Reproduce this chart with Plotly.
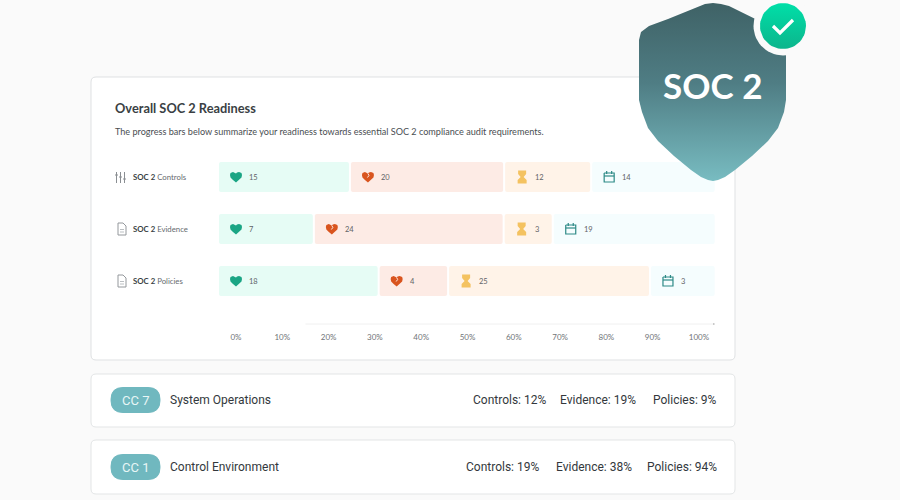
import math
import plotly.graph_objects as go

# ---- data ----
categories = ["SOC 2 Controls", "SOC 2 Evidence", "SOC 2 Policies"]
# printed counts
passing = [15, 7, 18]
failing = [20, 24, 4]
pending = [12, 3, 25]
scheduled = [14, 19, 3]
# drawn segment lengths on the 0-100% axis (bars are not proportional to the counts)
passing_len = [28.5, 20.7, 34.7]
failing_len = [33.3, 41.0, 15.0]
pending_len = [18.8, 10.6, 43.6]
scheduled_len = [26.9, 35.2, 14.2]
axis_start = -3.67
axis_end = 103.46
tick_values = [0, 10, 20, 30, 40, 50, 60, 70, 80, 90, 100]
cards = [("CC 7", "System Operations", "Controls: 12%", "Evidence: 19%", "Policies: 9%"),
         ("CC 1", "Control Environment", "Controls: 19%", "Evidence: 38%", "Policies: 94%")]

W, H = 900, 500
FONT = "Lato"
INK = "#3a3f44"
SEG = [
    ("Passing", passing_len, passing, "#e6fcf5", "heart"),
    ("Failing", failing_len, failing, "#fdebe5", "broken"),
    ("Pending", pending_len, pending, "#fff3e8", "hour"),
    ("Scheduled", scheduled_len, scheduled, "#f5fdfe", "cal"),
]
GAP = 2 / 4.63

fig = go.Figure()


def px_x(v):
    return 219 + (v - axis_start) * 496 / (axis_end - axis_start)


def poly(xs, ys, color):
    fig.add_trace(go.Scatter(x=xs, y=ys, xaxis="x2", yaxis="y2", mode="lines", fill="toself",
                             fillcolor=color, line=dict(width=0), hoverinfo="skip", showlegend=False))


def stroke(xs, ys, color, w=1.2):
    fig.add_trace(go.Scatter(x=xs, y=ys, xaxis="x2", yaxis="y2", mode="lines",
                             line=dict(color=color, width=w), hoverinfo="skip", showlegend=False))


def heart(cx, cy, color, broken=False):
    xs = [-6, -5.5, -3, -1, 0, 1, 3, 5.5, 6, 5.5, 3, 0, -3, -5.5, -6]
    ys = [-2, -4, -5, -4.5, -3.5, -4.5, -5, -4, -2, 0.5, 3, 5.5, 3, 0.5, -2]
    poly([cx + a for a in xs], [cy + b for b in ys], color)
    if broken:
        stroke([cx, cx + 1, cx - 0.5], [cy - 3.5, cy - 1.5, cy + 0.5], "#fdebe5", 1)


def hourglass(cx, cy, color):
    xs = [-4, 4, 4, 1.5, 4.5, 4.5, -4.5, -4.5, -1.5, -4]
    ys = [-6.5, -6.5, -3, 0, 3, 6.5, 6.5, 3, 0, -3]
    poly([cx + a for a in xs], [cy + b for b in ys], color)


def calendar(cx, cy, color):
    stroke([cx - 5, cx + 5, cx + 5, cx - 5, cx - 5], [cy - 4, cy - 4, cy + 5, cy + 5, cy - 4], color)
    stroke([cx - 5, cx + 5], [cy - 1, cy - 1], color)
    stroke([cx - 2.5, cx - 2.5, None, cx + 2.5, cx + 2.5], [cy - 6, cy - 3, None, cy - 6, cy - 3], color)


# ---- the chart: bars positioned through the real x/y axes ----
for i, (name, lens, vals, color, icon) in enumerate(SEG):
    bases = []
    for r in range(3):
        bases.append(axis_start + sum(SEG[k][1][r] for k in range(i)))
    fig.add_trace(go.Bar(y=categories, x=[l - GAP for l in lens], base=bases, orientation="h", name=name,
                         marker=dict(color=color, line=dict(width=0)), width=0.577,
                         customdata=vals, showlegend=False))

# ---- page and cards ----
shapes = []


def rrect(x0, y0, x1, y1, r, fill, line=None):
    X = lambda v: v / W
    Y = lambda v: 1 - v / H
    path = (f"M{X(x0+r)},{Y(y0)} L{X(x1-r)},{Y(y0)} Q{X(x1)},{Y(y0)} {X(x1)},{Y(y0+r)} L{X(x1)},{Y(y1-r)} "
            f"Q{X(x1)},{Y(y1)} {X(x1-r)},{Y(y1)} L{X(x0+r)},{Y(y1)} Q{X(x0)},{Y(y1)} {X(x0)},{Y(y1-r)} "
            f"L{X(x0)},{Y(y0+r)} Q{X(x0)},{Y(y0)} {X(x0+r)},{Y(y0)} Z")
    shapes.append(dict(type="path", path=path, xref="paper", yref="paper", fillcolor=fill,
                       line=dict(color=line or fill, width=1), layer="below"))


rrect(91, 77, 735, 360, 5, "#ffffff", "#dfe1e3")
rrect(91, 374, 735, 427, 5, "#ffffff", "#e3e5e6")
rrect(91, 440, 735, 494, 5, "#ffffff", "#e3e5e6")
# faint axis line, only visible over the right part in the reference
shapes.append(dict(type="line", xref="x", yref="paper", x0=15, x1=axis_end, y0=1 - 324 / H, y1=1 - 324 / H,
                   line=dict(color="#f0f0f0", width=1), layer="below"))
shapes.append(dict(type="line", xref="x", yref="paper", x0=103.2, x1=103.2, y0=1 - 323 / H, y1=1 - 325 / H,
                   line=dict(color="#b5b5b5", width=1), layer="below"))

ann = []


def text(x, y, s, size, color=INK, anchor="left", family=FONT, **kw):
    # annotations keep about 2 px of padding around the text
    if anchor == "left":
        x -= 2
    ann.append(dict(text=s, x=x, y=y, xref="x2", yref="y2", showarrow=False, xanchor=anchor, yanchor="middle",
                    font=dict(size=size, color=color, family=family), **kw))


text(115, 108, "<b>Overall SOC 2 Readiness</b>", 12.8)
text(115, 131, "The progress bars below summarize your readiness towards essential SOC 2 compliance audit requirements.", 9.1, "#4a4e52")

# category labels + left icons
for cat, y, lx in zip(categories, [177, 229, 281], [132.5, 133, 132.5]):
    a, b = cat.rsplit(" ", 1)
    text(lx, y, f"<b>{a}</b> <span style='color:#666a6e'>{b}</span>", 7.8)
for i, cx in enumerate([116.5, 120.5, 124.5]):
    stroke([cx, cx], [172, 183], "#8a8e92", 1)
    stroke([cx - 1.5, cx + 1.5], [175 + i * 2, 175 + i * 2], "#8a8e92", 1)
for y in (229, 281):
    stroke([118, 123, 126, 126, 118, 118], [y - 6, y - 6, y - 3, y + 6, y + 6, y - 6], "#94989c", 1)
    stroke([120, 124, None, 120, 124], [y + 0.5, y + 0.5, None, y + 3, y + 3], "#aaaeb2", 0.8)

# bar icons and printed counts, placed from the same bar positions
rows = [177, 229, 281]
for i, (name, lens, vals, color, icon) in enumerate(SEG):
    for r, y in enumerate(rows):
        b = px_x(axis_start + sum(SEG[k][1][r] for k in range(i)))
        if icon == "heart":
            heart(b + 17, y, "#1aa584")
        elif icon == "broken":
            heart(b + 17, y, "#d9541e", True)
        elif icon == "hour":
            hourglass(b + 17, y, "#f4c260")
        else:
            calendar(b + 17, y, "#2d8a86")
        text(b + 30, y, str(vals[r]), 7.5, "#5f6367")

# bottom cards
for (tag, title, c, e, p), y in zip(cards, [400, 467]):
    rrect(111, y - 12.5, 160, y + 12.5, 12, "#70b8bf")
    text(135.5, y, tag, 13, "#e8f6f6", "center", family="Roboto")
    text(170, y, title, 12, "#33383c", family="Roboto")
    xs = (473, 560, 653) if y == 400 else (466, 556, 647)
    for s, xx in zip((c, e, p), xs):
        text(xx, y, s, 12, "#33383c", family="Roboto")

# shield with vertical gradient (y2 runs downwards, so the scale is given bottom to top)
sx = [713, 721, 729, 760, 778, 785, 786, 786, 784, 778, 768, 752, 735, 725, 718, 713, 708, 701, 691, 674, 658, 648, 642, 639, 639, 639, 641, 649, 668, 705]
sy = [3, 4, 6, 21, 30, 40, 52, 100, 112, 128, 141, 156, 170, 177, 180, 181, 180, 177, 170, 156, 141, 128, 112, 100, 60, 40, 32, 26, 19, 4]
fig.add_trace(go.Scatter(x=sx, y=sy, xaxis="x2", yaxis="y2", mode="lines", fill="toself", line=dict(width=0),
                         fillgradient=dict(type="vertical",
                                           colorscale=[[0, "#78bcc1"], [0.55, "#4f7d84"], [1, "#3f6266"]]),
                         hoverinfo="skip", showlegend=False))
ang = [k * math.pi / 30 for k in range(61)]
poly([783 + 29.5 * math.cos(a) for a in ang], [26 + 29.5 * math.sin(a) for a in ang], "#fafafa")
fig.add_trace(go.Scatter(x=[783 + 23 * math.cos(a) for a in ang], y=[26 + 23 * math.sin(a) for a in ang],
                         xaxis="x2", yaxis="y2", mode="lines", fill="toself", line=dict(width=0),
                         fillgradient=dict(type="vertical", colorscale=[[0, "#0cb58c"], [1, "#00dfa8"]]),
                         hoverinfo="skip", showlegend=False))
stroke([773, 780, 793], [26, 33, 20], "#ffffff", 3.2)
text(712.5, 85, "<b>SOC 2</b>", 35, "#ffffff", "center", family="Lato")

fig.update_layout(
    width=W, height=H, autosize=False, margin=dict(l=0, r=0, t=0, b=0),
    paper_bgcolor="#fafafa", plot_bgcolor="rgba(0,0,0,0)", barmode="overlay",
    barcornerradius=2, showlegend=False, shapes=shapes, annotations=ann,
    xaxis=dict(domain=[219 / W, 715 / W], range=[axis_start, axis_end], tickmode="array", tickvals=tick_values,
               ticktext=[f"{v}%" for v in tick_values], tickfont=dict(size=8, color="#707478", family=FONT),
               showgrid=False, zeroline=False, showline=False,
               ticks="outside", ticklen=5, tickcolor="rgba(0,0,0,0)", anchor="y"),
    yaxis=dict(domain=[1 - 324 / H, 1 - 151 / H], range=[2.5 + 17 / 52, -0.5], type="category",
               categoryorder="array", categoryarray=categories, showticklabels=False, showgrid=False,
               zeroline=False, ticks=""),
    xaxis2=dict(domain=[0, 1], range=[0, W], visible=False, fixedrange=True, anchor="y2"),
    yaxis2=dict(domain=[0, 1], range=[H, 0], visible=False, fixedrange=True, anchor="x2"),
)
fig.write_html("out.html", config=dict(displayModeBar=False),
               post_script="document.body.style.margin='0';document.body.style.background='#fafafa';")
